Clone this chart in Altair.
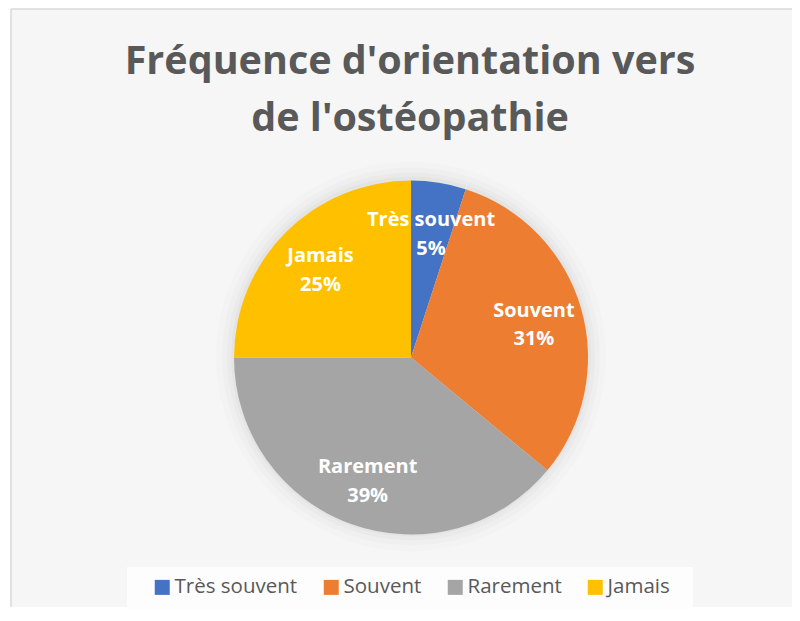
import altair as alt
import pandas as pd

categories = ["Très souvent", "Souvent", "Rarement", "Jamais"]
percents = [5, 31, 39, 25]
colors = ["#4472C4", "#ED7D31", "#A5A5A5", "#FFC000"]
title_lines = ["Fréquence d'orientation vers", "de l'ostéopathie"]

df = pd.DataFrame({"cat": categories, "pct": percents, "idx": list(range(len(categories)))})
df["label"] = [f"{c}\n{p}%" for c, p in zip(categories, percents)]

W, H = 781, 598
CX, CY = 400, 348.5
R = 177

theta = alt.Theta("pct:Q", stack=True)
order = alt.Order("idx:Q")
color = alt.Color(
    "cat:N",
    scale=alt.Scale(domain=categories, range=colors),
    legend=alt.Legend(
        title=None,
        orient="none",
        legendX=141,
        legendY=568,
        direction="horizontal",
        columns=4,
        symbolType="square",
        symbolSize=225,
        symbolStrokeWidth=0,
        labelFont="Open Sans",
        labelFontSize=20.5,
        labelColor="#595959",
        labelOffset=2,
        columnPadding=23,
        labelLimit=400,
        padding=0,
    ),
)

base = alt.Chart(df)

shadows = [
    base.mark_arc(radius=R + dr, color="#000000", opacity=op).encode(
        theta=theta, order=order, x=alt.value(CX), y=alt.value(CY - 1)
    )
    for dr, op in [(18, 0.012), (12, 0.015), (7, 0.018), (3, 0.022)]
]

pie = base.mark_arc(radius=R).encode(
    theta=theta, order=order, color=color, x=alt.value(CX), y=alt.value(CY)
)

labels = base.mark_text(
    radius=128,
    font="Open Sans",
    fontWeight="bold",
    fontSize=20,
    color="white",
    lineBreak="\n",
    lineHeight=28.6,
    align="center",
    baseline="middle",
    dy=-11,
).encode(theta=theta, order=order, text="label:N", x=alt.value(CX), y=alt.value(CY))

one = alt.Chart(pd.DataFrame({"t": ["\n".join(title_lines)]}))

title = one.mark_text(
    font="Open Sans",
    fontWeight="bold",
    fontSize=39.5,
    color="#595959",
    lineBreak="\n",
    lineHeight=57,
    align="center",
    baseline="alphabetic",
).encode(text="t:N", x=alt.value(399), y=alt.value(65.3))

legend_box = one.mark_rect(color="#fdfdfd").encode(
    x=alt.value(116), x2=alt.value(682), y=alt.value(558), y2=alt.value(601)
)

border_left = one.mark_rule(color="#d9d9d9", strokeWidth=1.5).encode(
    x=alt.value(0), y=alt.value(0), y2=alt.value(H)
)
border_top = one.mark_rule(color="#d9d9d9", strokeWidth=1.5).encode(
    x=alt.value(0), x2=alt.value(W), y=alt.value(0)
)

chart = alt.layer(
    legend_box, border_left, border_top, *shadows, pie, labels, title
).properties(
    width=W,
    height=H,
    autosize=alt.AutoSizeParams(type="none"),
    padding={"left": 3, "top": 1, "right": 0, "bottom": 2},
    background="white",
).configure_view(fill="#f6f6f6", stroke="transparent", strokeWidth=0)

chart.save("out.html", embed_options={"renderer": "svg", "actions": False})
